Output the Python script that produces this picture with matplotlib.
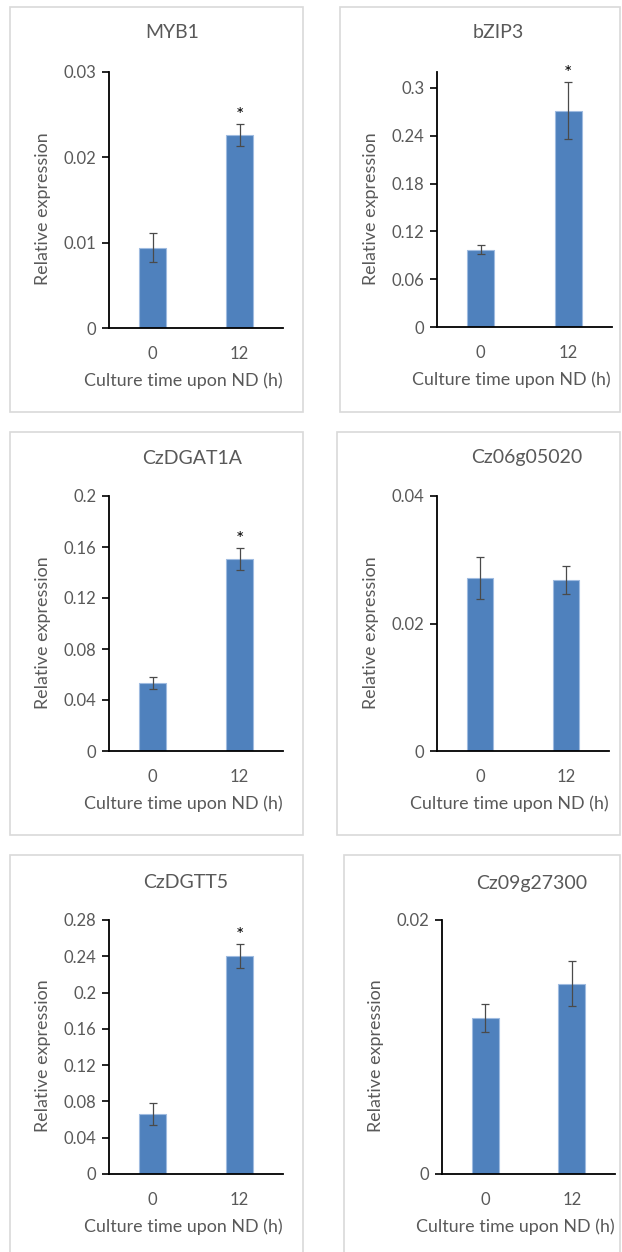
import matplotlib
matplotlib.use("Agg")
import matplotlib.pyplot as plt
from matplotlib.patches import Rectangle
from matplotlib.ticker import FuncFormatter

# DATA
genes = ["MYB1", "bZIP3", "CzDGAT1A", "Cz06g05020", "CzDGTT5", "Cz09g27300"]
times = ["0", "12"]

myb1 = [0.0094, 0.0226]
myb1_err = [0.0017, 0.0013]
bzip3 = [0.0967, 0.2715]
bzip3_err = [0.0056, 0.0355]
dgat1a = [0.0533, 0.1508]
dgat1a_err = [0.0049, 0.0086]
cz06 = [0.0272, 0.0268]
cz06_err = [0.0033, 0.0022]
dgtt5 = [0.0657, 0.2404]
dgtt5_err = [0.0121, 0.0130]
cz09 = [0.0123, 0.0150]
cz09_err = [0.0011, 0.0018]

values = [myb1, bzip3, dgat1a, cz06, dgtt5, cz09]
errors = [myb1_err, bzip3_err, dgat1a_err, cz06_err, dgtt5_err, cz09_err]
# significance mark per bar (0 h, 12 h)
stars = [[False, True], [False, True], [False, True],
         [False, False], [False, True], [False, False]]

yticks = [
    [0, 0.01, 0.02, 0.03],
    [0, 0.06, 0.12, 0.18, 0.24, 0.3],
    [0, 0.04, 0.08, 0.12, 0.16, 0.2],
    [0, 0.02, 0.04],
    [0, 0.04, 0.08, 0.12, 0.16, 0.2, 0.24, 0.28],
    [0, 0.02],
]
ytop = [0.03, 0.32, 0.2, 0.04, 0.28, 0.02]

ylab = "Relative expression"
xlab = "Culture time upon ND (h)"

# LAYOUT (pixels)
W, H = 622, 1252
axes_px = [(109, 72, 283, 328), (437, 72, 612, 327),
           (109, 496, 283, 751), (437, 496, 609, 751),
           (109, 920, 283, 1174), (442, 920, 615, 1174)]
boxes_px = [(10, 7, 303, 412), (340, 7, 620, 412),
            (10, 432, 303, 835), (337, 432, 620, 835),
            (10, 855, 303, 1260), (344, 855, 620, 1260)]
title_px = [(172, 33), (498, 33), (192, 458), (527, 458), (186, 882), (532, 883)]
xlab_x = [183, 511, 183, 509, 183, 515]

grey = "#595959"
blue = "#4F81BD"
plt.rcParams['font.family'] = ['Lato', 'DejaVu Sans']

fig = plt.figure(figsize=(W / 100, H / 100), dpi=100)

def fx(x):
    return x / W

def fy(y):
    return 1 - y / H

for i, g in enumerate(genes):
    bx0, by0, bx1, by1 = boxes_px[i]
    fig.patches.append(Rectangle((fx(bx0), fy(by1)), fx(bx1 - bx0), (by1 - by0) / H,
                                 transform=fig.transFigure, fill=False,
                                 edgecolor="#d9d9d9", lw=1.2))
    l, t, r, b = axes_px[i]
    ax = fig.add_axes([fx(l), fy(b), fx(r - l), (b - t) / H])
    x = list(range(len(times)))
    ax.bar(x, values[i], width=0.31, color=blue, edgecolor="#9fbbe0", lw=0.8, zorder=2)
    ax.errorbar(x, values[i], yerr=errors[i], fmt="none", ecolor="#4a4a4a",
                elinewidth=0.9, capsize=3, capthick=0.9, zorder=3)
    for k in x:
        if stars[i][k]:
            ax.annotate("*", (k, values[i][k] + errors[i][k]), xytext=(0, 0),
                        textcoords="offset points", ha="center", va="bottom",
                        fontsize=14, color="black")
    ax.set_xlim(-0.5, 1.5)
    ax.set_ylim(0, ytop[i])
    ax.set_xticks(x)
    ax.set_xticklabels(times)
    ax.set_yticks(yticks[i])
    ax.yaxis.set_major_formatter(FuncFormatter(lambda v, p: "%g" % v))
    for s in ["top", "right"]:
        ax.spines[s].set_visible(False)
    for s in ["left", "bottom"]:
        ax.spines[s].set_linewidth(1.3)
        ax.spines[s].set_color("black")
    ax.tick_params(axis="x", length=0, pad=13, labelsize=12, labelcolor=grey)
    ax.tick_params(axis="y", length=5, width=1.2, direction="out", pad=4,
                   labelsize=12, labelcolor=grey)
    ax.set_ylabel(ylab, fontsize=12.9, color=grey)
    ax.yaxis.set_label_coords(-58 / (r - l), 0.5 - 9 / (b - t))
    fig.text(fx(title_px[i][0]), fy(title_px[i][1]), g, ha="center", va="center",
             fontsize=14, color=grey)
    fig.text(fx(xlab_x[i]), fy(b + 53), xlab, ha="center", va="center",
             fontsize=12.9, color=grey)

fig.savefig("out.png", dpi=100)
